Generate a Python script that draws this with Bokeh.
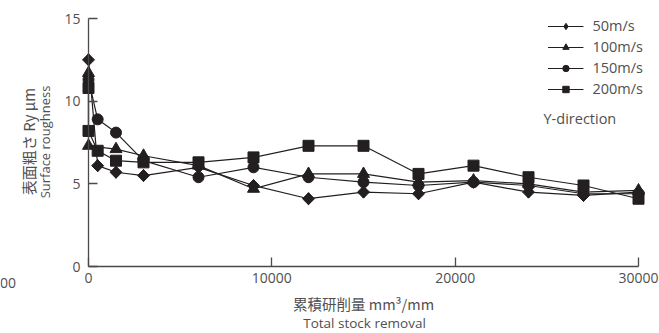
import math
from bokeh.plotting import figure
from bokeh.models import Range1d, FixedTicker, Legend, LegendItem, Label
from bokeh.embed import file_html
from bokeh.resources import INLINE

# ---- data ----
x_50 = [0, 500, 1500, 3000, 6000, 9000, 12000, 15000, 18000, 21000, 24000, 27000, 30000]
y_50 = [12.5, 6.1, 5.7, 5.5, 6.0, 4.9, 4.1, 4.5, 4.4, 5.1, 4.5, 4.3, 4.5]

x_100 = [0, 0, 1500, 3000, 6000, 9000, 12000, 15000, 18000, 21000, 24000, 27000, 30000]
y_100 = [11.7, 7.3, 7.1, 6.7, 6.1, 4.7, 5.6, 5.6, 5.1, 5.2, 5.0, 4.5, 4.6]

x_150 = [0, 500, 1500, 3000, 6000, 9000, 12000, 15000, 18000, 21000, 24000, 27000, 30000]
y_150 = [11.3, 8.9, 8.1, 6.4, 5.4, 6.0, 5.4, 5.1, 4.9, 5.1, 4.9, 4.4, 4.4]

x_200 = [0, 0, 500, 1500, 3000, 6000, 9000, 12000, 15000, 18000, 21000, 24000, 27000, 30000]
y_200 = [10.8, 8.2, 7.0, 6.4, 6.3, 6.3, 6.6, 7.3, 7.3, 5.6, 6.1, 5.4, 4.9, 4.1]

series_labels = ["50m/s", "100m/s", "150m/s", "200m/s"]
x_ticks = [0, 10000, 20000, 30000]
y_ticks = [0, 5, 10, 15]

INK = "#231f20"
TXT = "#505050"
AX = "#4a4a4a"
FONT = "Open Sans"
JFONT = "Noto Sans CJK JP"

# frame fills the whole canvas; axes are fixed at the data origin
p = figure(width=659, height=333, output_backend="svg", toolbar_location=None,
           x_range=Range1d(-4800, 31145), y_range=Range1d(-4.052, 16.089),
           min_border=0)
p.outline_line_color = None
p.grid.visible = False

p.xaxis.fixed_location = 0
p.yaxis.fixed_location = 0
p.xaxis.bounds = (0, 30000)
p.yaxis.bounds = (0, 15)
p.xaxis.ticker = FixedTicker(ticks=x_ticks)
p.yaxis.ticker = FixedTicker(ticks=y_ticks)
for ax in (p.xaxis, p.yaxis):
    ax.axis_line_color = AX
    ax.axis_line_width = 1.3
    ax.major_tick_line_color = AX
    ax.major_tick_line_width = 1.3
    ax.major_tick_in = 9
    ax.major_tick_out = 0
    ax.minor_tick_line_color = None
    ax.major_label_text_font = FONT
    ax.major_label_text_font_size = "14px"
    ax.major_label_text_color = TXT
p.xaxis.major_label_standoff = 6
p.yaxis.major_label_standoff = 8

# series
markers = [("square", 8.5, math.pi / 4), ("triangle", 12, 0.0),
           ("circle", 11, 0.0), ("square", 11, 0.0)]
legend_markers = ["diamond", "triangle", "circle", "square"]
data = [(x_50, y_50), (x_100, y_100), (x_150, y_150), (x_200, y_200)]
items = []
for (xs, ys), (mk, sz, ang), lmk, lab in zip(data, markers, legend_markers, series_labels):
    ln = p.line(xs, ys, line_color=INK, line_width=1.2)
    key = None
    if lmk != mk:
        # same points, drawn underneath (hidden by the rotated squares); used as legend key
        key = p.scatter(xs, ys, marker=lmk, size=12,
                        fill_color=INK, line_color=INK)
    sc = p.scatter(xs, ys, marker=mk, size=sz, angle=ang,
                   fill_color=INK, line_color=INK)
    items.append(LegendItem(label=lab, renderers=[ln, key if key is not None else sc]))

legend = Legend(items=items, location="top_right")
legend.background_fill_alpha = 0
legend.border_line_color = None
legend.margin = 16
legend.padding = 0
legend.spacing = 2
legend.glyph_width = 36
legend.glyph_height = 16
legend.label_height = 16
legend.label_standoff = 9
legend.label_text_font = FONT
legend.label_text_font_size = "14.5px"
legend.label_text_color = TXT
p.add_layout(legend)


def lab(x, y, text, font, size, **kw):
    p.add_layout(Label(x=x, y=y, text=text, text_font=font,
                       text_font_size=size, text_color=TXT, **kw))


lab(24818, 8.95, "Y-direction", FONT, "14.5px", text_baseline="middle", text_align="left")
lab(-3250, 7.56, "表面粗さ Ry μm", JFONT, "15px", angle=math.pi / 2,
    text_align="center", text_baseline="middle")
lab(-2400, 7.53, "Surface roughness", FONT, "13px", angle=math.pi / 2,
    text_align="center", text_baseline="middle")
lab(15000, -2.24, "累積研削量 mm³/mm", JFONT, "14.5px",
    text_align="center", text_baseline="middle")
lab(15054, -3.39, "Total stock removal", FONT, "13.5px",
    text_align="center", text_baseline="middle")
lab(-3950, -0.97, "00", FONT, "14px", text_align="right", text_baseline="middle")

open("out.html", "w").write(file_html(p, INLINE))
